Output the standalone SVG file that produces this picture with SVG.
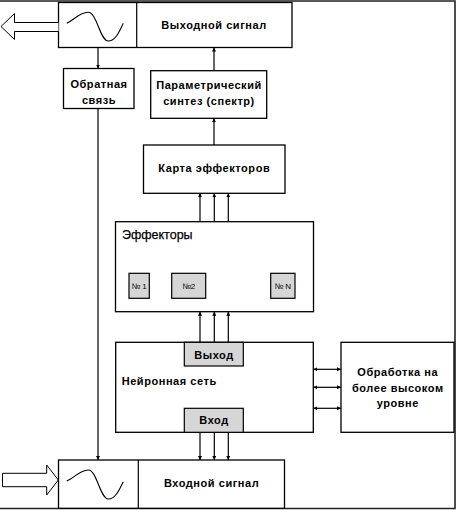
<svg xmlns="http://www.w3.org/2000/svg" width="456" height="510" viewBox="0 0 456 510">
<defs>
<marker id="ah" viewBox="0 0 6 6" refX="6" refY="3" markerWidth="4" markerHeight="4" orient="auto-start-reverse" markerUnits="userSpaceOnUse">
<path d="M0,0 L6,3 L0,6 z" fill="#000"/>
</marker>
<style>
.box{fill:#fff;stroke:#000;stroke-width:1.3}
.gray{fill:#d6d6d6;stroke:#000;stroke-width:1.2}
.ln{stroke:#000;stroke-width:1.2;fill:none}
.t{font-family:"Liberation Sans",Arial,sans-serif;font-size:11px;font-weight:bold;fill:#000;letter-spacing:0.55px}
.c{text-anchor:middle}
.s{font-family:"Liberation Sans",Arial,sans-serif;font-size:8px;fill:#000;text-anchor:middle}
.wave{fill:none;stroke:#000;stroke-width:1.1}
</style>
</defs>
<g id="frame">
<path d="M0,1 H455 V508.5 H0" fill="none" stroke="#222" stroke-width="1.6"/>
</g>
<g id="output-signal">
<rect class="box" x="58.5" y="2.5" width="233.5" height="45"/>
<line class="ln" x1="136.7" y1="2.5" x2="136.7" y2="47.5"/>
<path class="wave" d="M66.7,23.3 C74,20 80,12 88.3,12.3 C97,12.6 100,41 108.3,41 C116,41 120,30 123.3,23.3"/>
<text class="t c" x="214" y="28.5">Выходной сигнал</text>
<path d="M58.5,22.5 H14.5 V13.5 L1,26.5 L14.5,39.5 V31.5 H58.5" fill="#fff" stroke="#000" stroke-width="1"/>
</g>
<g id="feedback">
<rect class="box" x="63.5" y="68.5" width="70.5" height="40"/>
<text class="t c" x="99" y="88">Обратная</text>
<text class="t c" x="99" y="104">связь</text>
</g>
<g id="synthesis">
<rect class="box" x="150.7" y="70.7" width="116" height="47.6"/>
<text class="t c" x="209" y="89">Параметрический</text>
<text class="t c" x="209" y="105">синтез (спектр)</text>
</g>
<g id="effector-map">
<rect class="box" x="143.5" y="145" width="141.5" height="48.3"/>
<text class="t c" x="214.3" y="171.5">Карта эффекторов</text>
</g>
<g id="effectors">
<rect class="box" x="115.5" y="221.7" width="198" height="90"/>
<text x="122" y="238.5" font-family="Liberation Sans, Arial, sans-serif" font-size="12.5" fill="#000" stroke="#000" stroke-width="0.25">Эффекторы</text>
<rect class="gray" x="129" y="273.3" width="20.3" height="25"/>
<text class="s" x="139.2" y="289">№ 1</text>
<rect class="gray" x="171.7" y="273.3" width="34" height="25"/>
<text class="s" x="188.7" y="289">№2</text>
<rect class="gray" x="270.7" y="273.3" width="24.3" height="25"/>
<text class="s" x="282.8" y="289">№ N</text>
</g>
<g id="neural-net">
<rect class="box" x="115.7" y="342.3" width="197.6" height="90"/>
<rect class="gray" x="184.3" y="342.3" width="59" height="23.7"/>
<text class="t c" x="214" y="358.5">Выход</text>
<text class="t" x="121.7" y="385">Нейронная сеть</text>
<rect class="gray" x="184.3" y="408.3" width="59" height="24"/>
<text class="t c" x="214" y="424">Вход</text>
</g>
<g id="higher-processing">
<rect class="box" x="341" y="342.3" width="113" height="90"/>
<text class="t c" x="397.8" y="375.5">Обработка на</text>
<text class="t c" x="397.8" y="392">более высоком</text>
<text class="t c" x="397.8" y="407">уровне</text>
</g>
<g id="input-signal">
<rect class="box" x="58.5" y="460" width="226" height="48.3"/>
<line class="ln" x1="138.3" y1="460" x2="138.3" y2="508.3"/>
<path class="wave" d="M66.7,481 C74,478 80,470 88.3,470 C97,470 100,499 108.3,499 C116,499 120,488 123.3,481.7"/>
<text class="t c" x="211.6" y="486.5">Входной сигнал</text>
<path d="M2.5,473.3 H46.7 V465 L58.3,480 L46.7,495 V486.7 H2.5 Z" fill="#fff" stroke="#000" stroke-width="1"/>
</g>
<g id="connectors">
<line class="ln" x1="98" y1="47.5" x2="98" y2="68.5" marker-end="url(#ah)"/>
<line class="ln" x1="98" y1="108.5" x2="98" y2="460" marker-end="url(#ah)"/>
<line class="ln" x1="214" y1="70.7" x2="214" y2="47.5" marker-end="url(#ah)"/>
<line class="ln" x1="214" y1="145" x2="214" y2="118.3" marker-end="url(#ah)"/>
<line class="ln" x1="200" y1="221.7" x2="200" y2="193.3" marker-end="url(#ah)"/>
<line class="ln" x1="214.3" y1="221.7" x2="214.3" y2="193.3" marker-end="url(#ah)"/>
<line class="ln" x1="228.3" y1="221.7" x2="228.3" y2="193.3" marker-end="url(#ah)"/>
<line class="ln" x1="200" y1="342.3" x2="200" y2="311.7" marker-end="url(#ah)"/>
<line class="ln" x1="214.3" y1="342.3" x2="214.3" y2="311.7" marker-end="url(#ah)"/>
<line class="ln" x1="228.3" y1="342.3" x2="228.3" y2="311.7" marker-end="url(#ah)"/>
<line class="ln" x1="200" y1="432.3" x2="200" y2="460" marker-end="url(#ah)"/>
<line class="ln" x1="214.3" y1="432.3" x2="214.3" y2="460" marker-end="url(#ah)"/>
<line class="ln" x1="228.3" y1="432.3" x2="228.3" y2="460" marker-end="url(#ah)"/>
<line class="ln" x1="313.3" y1="369.3" x2="341" y2="369.3" marker-start="url(#ah)" marker-end="url(#ah)"/>
<line class="ln" x1="313.3" y1="387.3" x2="341" y2="387.3" marker-start="url(#ah)" marker-end="url(#ah)"/>
<line class="ln" x1="313.3" y1="408.3" x2="341" y2="408.3" marker-start="url(#ah)" marker-end="url(#ah)"/>
</g>
</svg>
